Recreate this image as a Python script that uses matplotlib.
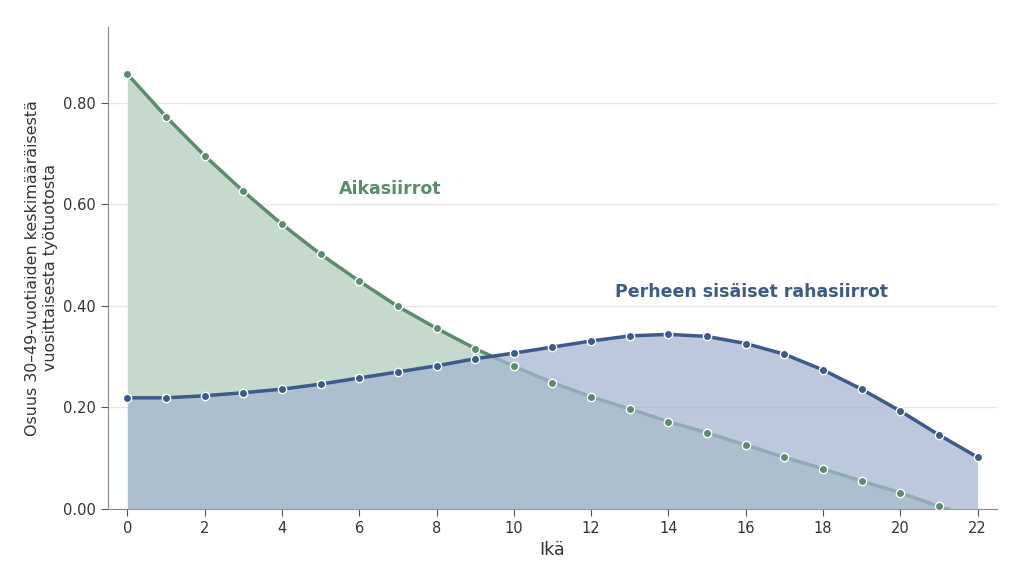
import matplotlib
matplotlib.use("Agg")
import matplotlib.pyplot as plt
import numpy as np

ages = list(range(23))
aikasiirrot = [0.857, 0.773, 0.696, 0.626, 0.561, 0.502, 0.449, 0.399, 0.356, 0.316,
               0.281, 0.249, 0.221, 0.197, 0.172, 0.150, 0.126, 0.102, 0.079, 0.055,
               0.032, 0.005, -0.018]
rahasiirrot = [0.219, 0.219, 0.223, 0.229, 0.236, 0.246, 0.258, 0.270, 0.282, 0.296,
               0.307, 0.319, 0.331, 0.341, 0.344, 0.340, 0.326, 0.305, 0.274, 0.236,
               0.193, 0.146, 0.102]
xticks = list(range(0, 23, 2))
yticks = [0.0, 0.2, 0.4, 0.6, 0.8]

green = "#5b8c6e"
blue = "#3d5a8c"

fig = plt.figure(figsize=(10.24, 5.83), dpi=100)
ax = fig.add_axes([0.1055, 0.127, 0.868, 0.827])

ax.fill_between(ages, aikasiirrot, 0, color="#c5dacd", linewidth=0, zorder=1)
ax.plot(ages, aikasiirrot, color=green, lw=2.5, zorder=2)
ax.fill_between(ages, rahasiirrot, 0, color="#a5b5d0", alpha=0.74, linewidth=0, zorder=3)
ax.plot(ages, aikasiirrot, 'o', color=green, ms=6, mec="white", mew=1, zorder=4)
ax.plot(ages, rahasiirrot, color=blue, lw=2.5, marker='o', ms=6, mec="white", mew=1, zorder=5)

ax.text(6.8, 0.63, "Aikasiirrot", color=green, fontsize=12.5, fontweight="bold",
        ha="center", va="center", zorder=6)
ax.text(16.15, 0.428, "Perheen sisäiset rahasiirrot", color=blue, fontsize=12.5,
        fontweight="bold", ha="center", va="center", zorder=6)

ax.set_xlim(-0.5, 22.5)
ax.set_ylim(0, 0.95)
ax.set_xticks(xticks)
ax.set_yticks(yticks)
ax.set_yticklabels([f"{v:.2f}" for v in yticks])
ax.grid(axis="y", color="#e6e6e6", lw=1, zorder=0)
ax.set_axisbelow(True)
for s in ["top", "right"]:
    ax.spines[s].set_visible(False)
for s in ["left", "bottom"]:
    ax.spines[s].set_color("#888888")
ax.tick_params(colors="#333333", labelsize=10.5, length=5)
ax.tick_params(axis="both", color="#555555")
ax.set_xlabel("Ikä", fontsize=12.5, color="#333333")
ax.set_ylabel("Osuus 30–49-vuotiaiden keskimääräisestä\nvuosittaisesta työtuotosta",
              fontsize=11.4, color="#333333", labelpad=4)

fig.savefig("out.png", dpi=100)
